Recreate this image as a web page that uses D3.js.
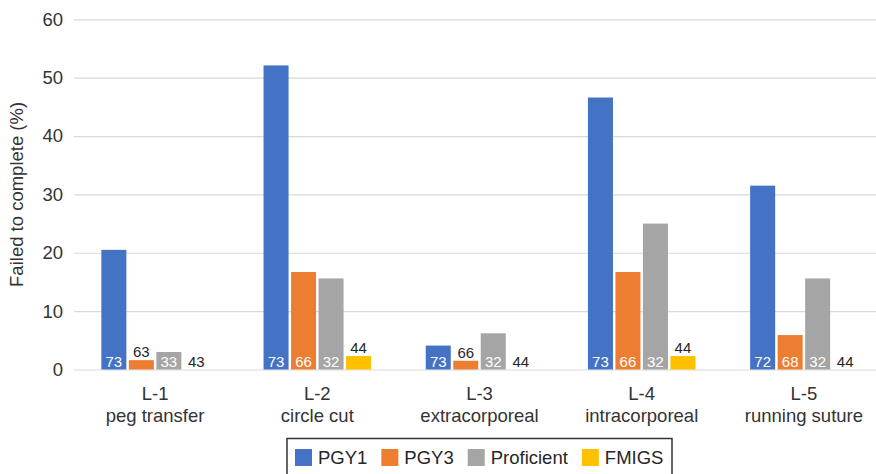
<!DOCTYPE html>
<html>
<head>
<meta charset="utf-8">
<script src="https://cdn.jsdelivr.net/npm/d3@7"></script>
<style>
  html, body { margin: 0; padding: 0; background: #fff; }
  svg { display: block; font-family: "Liberation Sans", Arial, sans-serif; }
</style>
</head>
<body>
<div id="viz"></div>
<script>
var categories = ["L-1", "L-2", "L-3", "L-4", "L-5"];
var subtitles = ["peg transfer", "circle cut", "extracorporeal", "intracorporeal", "running suture"];
var series = ["PGY1", "PGY3", "Proficient", "FMIGS"];
var colors = ["#4472C4", "#ED7D31", "#A5A5A5", "#FFC000"];

// percent failed to complete
var pgy1 = [20.5, 52.1, 4.1, 46.6, 31.5];
var pgy3 = [1.6, 16.7, 1.5, 16.7, 5.9];
var proficient = [3.0, 15.6, 6.2, 25.0, 15.6];
var fmigs = [0, 2.3, 0, 2.3, 0];

// number of participants shown on each bar
var pgy1N = [73, 73, 73, 73, 72];
var pgy3N = [63, 66, 66, 66, 68];
var proficientN = [33, 32, 32, 32, 32];
var fmigsN = [43, 44, 44, 44, 44];

var yTicks = [0, 10, 20, 30, 40, 50, 60];

var values = [pgy1, pgy3, proficient, fmigs];
var counts = [pgy1N, pgy3N, proficientN, fmigsN];

var width = 876, height = 474;
var margin = { top: 19.3, left: 74, plotRight: 885, bottom: 369.5 };

var svg = d3.select("#viz").append("svg")
    .attr("width", width)
    .attr("height", height);

var x0 = d3.scaleBand()
    .domain(categories)
    .range([margin.left, margin.plotRight]);

var x1 = d3.scaleBand()
    .domain(series)
    .range([0, x0.bandwidth()])
    .paddingInner(0.09)
    .paddingOuter(0.994);

var y = d3.scaleLinear()
    .domain([0, 60])
    .range([margin.bottom, margin.top]);

// gridlines + tick labels
var yAxis = svg.append("g")
    .attr("transform", "translate(" + margin.left + ",0)")
    .call(d3.axisLeft(y)
        .tickValues(yTicks)
        .tickSize(-(margin.plotRight - margin.left))
        .tickPadding(11));
yAxis.select(".domain").remove();
yAxis.selectAll(".tick line").attr("stroke", "#d9d9d9").attr("stroke-width", 1.2);
yAxis.selectAll(".tick text")
    .attr("fill", "#333")
    .style("font-size", "18.5px");

svg.append("text")
    .attr("transform", "translate(23," + ((margin.top + margin.bottom) / 2) + ") rotate(-90)")
    .attr("text-anchor", "middle")
    .attr("fill", "#333")
    .style("font-size", "18.5px")
    .text("Failed to complete (%)");

// bars
var rows = [];
categories.forEach(function (c, i) {
    series.forEach(function (s, j) {
        rows.push({ cat: c, ser: s, v: values[j][i], n: counts[j][i], color: colors[j] });
    });
});

var bars = svg.append("g");
bars.selectAll("rect")
    .data(rows)
    .enter().append("rect")
    .attr("x", function (d) { return x0(d.cat) + x1(d.ser); })
    .attr("y", function (d) { return y(d.v); })
    .attr("width", x1.bandwidth())
    .attr("height", function (d) { return y(0) - y(d.v); })
    .attr("fill", function (d) { return d.color; });

bars.selectAll("text")
    .data(rows)
    .enter().append("text")
    .attr("x", function (d) { return x0(d.cat) + x1(d.ser) + x1.bandwidth() / 2; })
    .attr("y", function (d) {
        var inside = y(0) - y(d.v) > 15;
        return inside ? y(0) - 3 : Math.min(y(d.v) - 3, y(0) - 3);
    })
    .attr("text-anchor", "middle")
    .attr("fill", function (d) { return (y(0) - y(d.v) > 15) ? "#fff" : "#262626"; })
    .style("font-size", "15px")
    .text(function (d) { return d.n; });

// category labels
var xl = svg.append("g");
categories.forEach(function (c, i) {
    var cx = x0(c) + x0.bandwidth() / 2;
    xl.append("text")
        .attr("x", cx).attr("y", 400)
        .attr("text-anchor", "middle")
        .attr("fill", "#333")
        .style("font-size", "18.5px")
        .text(c);
    xl.append("text")
        .attr("x", cx).attr("y", 422)
        .attr("text-anchor", "middle")
        .attr("fill", "#333")
        .style("font-size", "18.5px")
        .text(subtitles[i]);
});

// legend
var legend = svg.append("g");
legend.append("rect")
    .attr("x", 287).attr("y", 438.5)
    .attr("width", 385).attr("height", 50)
    .attr("fill", "none")
    .attr("stroke", "#333")
    .attr("stroke-width", 1.5);

var lx = 295;
series.forEach(function (s, j) {
    legend.append("rect")
        .attr("x", lx).attr("y", 449)
        .attr("width", 17).attr("height", 17)
        .attr("fill", colors[j]);
    var t = legend.append("text")
        .attr("x", lx + 23).attr("y", 464)
        .attr("fill", "#262626")
        .style("font-size", "18.5px")
        .text(s);
    lx += 23 + t.node().getComputedTextLength() + 14;
});
</script>
</body>
</html>
